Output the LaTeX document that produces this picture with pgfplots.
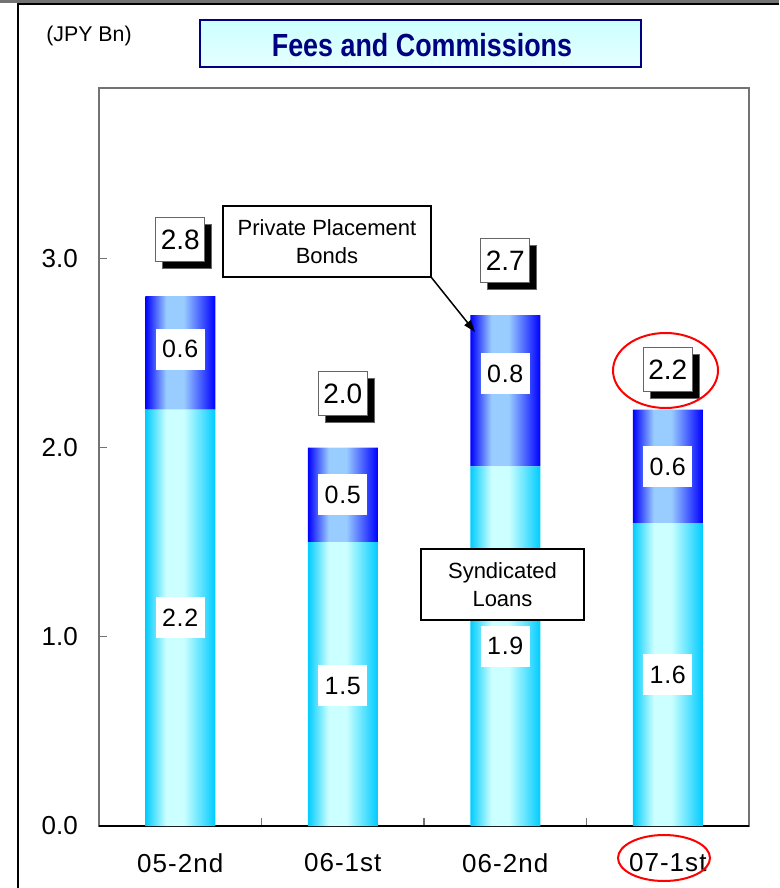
\documentclass[border=0pt]{standalone}
\usepackage{fontspec}
\setmainfont{Liberation Sans}
\newfontfamily\titlefont[FakeStretch=0.84]{Liberation Sans Bold}
\usepackage{pgfplots}
\pgfplotsset{compat=1.18}
\usepackage{pgfplotstable}
\usetikzlibrary{shadows,arrows.meta,calc}

\definecolor{loanedge}{RGB}{0,204,255}
\definecolor{loanmid}{RGB}{204,255,255}
\definecolor{bondedge}{RGB}{0,0,255}
\definecolor{bondmid}{RGB}{153,204,255}
\definecolor{navyblue}{RGB}{0,0,128}
\definecolor{titlefill}{RGB}{204,255,255}

% Horizontal highlight repeated once per bar (bars at 0..3, width 0.2154*2 units):
% the bars' common bounding box is mapped onto 25bp..75bp of the shading.
\pgfdeclarehorizontalshading{loanshade}{100bp}{%
  color(0bp)=(loanedge); color(25bp)=(loanedge); color(26.88bp)=(loanmid); color(28.45bp)=(loanmid); color(31.28bp)=(loanedge);
  color(39.57bp)=(loanedge); color(41.45bp)=(loanmid); color(43.02bp)=(loanmid); color(45.85bp)=(loanedge);
  color(54.15bp)=(loanedge); color(56.03bp)=(loanmid); color(57.60bp)=(loanmid); color(60.43bp)=(loanedge);
  color(68.72bp)=(loanedge); color(70.60bp)=(loanmid); color(72.17bp)=(loanmid); color(75bp)=(loanedge);
  color(100bp)=(loanedge)}
\pgfdeclarehorizontalshading{bondshade}{100bp}{%
  color(0bp)=(bondedge); color(25bp)=(bondedge); color(26.88bp)=(bondmid); color(28.45bp)=(bondmid); color(31.28bp)=(bondedge);
  color(39.57bp)=(bondedge); color(41.45bp)=(bondmid); color(43.02bp)=(bondmid); color(45.85bp)=(bondedge);
  color(54.15bp)=(bondedge); color(56.03bp)=(bondmid); color(57.60bp)=(bondmid); color(60.43bp)=(bondedge);
  color(68.72bp)=(bondedge); color(70.60bp)=(bondmid); color(72.17bp)=(bondmid); color(75bp)=(bondedge);
  color(100bp)=(bondedge)}

% Fees and commissions (JPY Bn) by half year, with label positions
\pgfplotstableread{
x loans bonds total lpos bpos tpos
0 2.2 0.6 2.8 1.10 2.52 3.097
1 1.5 0.5 2.0 0.74 1.75 2.283
2 1.9 0.8 2.7 0.95 2.39 2.986
3 1.6 0.6 2.2 0.80 1.90 2.410
}\feesdata

\pgfplotsset{
  chartframe/.style={
    anchor=south west, scale only axis,
    width=487.5pt, height=553.5pt,
    xmin=-0.5, xmax=3.5, ymin=0, ymax=3.9,
  },
  valfmt/.style={
    nodes near coords={\pgfmathprintnumber[fixed,fixed zerofill,precision=1,assume math mode=true]{\pgfplotspointmeta}},
    point meta=explicit,
  },
}

\begin{document}
\begin{tikzpicture}[x=0.75pt, y=0.75pt]

\begin{axis}[
  chartframe, name=main,
  ybar stacked, bar width=52.5pt,
  axis line style={draw=black!55, line width=1.2pt},
  tick pos=left,
  tick align=inside,
  major tick length=6pt,
  tick style={draw=black!55, line width=1pt},
  xtick={0.5,1.5,2.5}, xticklabels={},
  extra x ticks={0,1,2,3},
  extra x tick labels={05-2nd,06-1st,06-2nd,07-1st},
  extra x tick style={major tick length=0pt},
  xticklabel style={anchor=north, inner sep=0pt, yshift=-20.25pt,
    font=\fontsize{19.5}{20}\selectfont\addfontfeature{LetterSpace=4}},
  ytick={0,1,2,3},
  yticklabel style={anchor=east, inner sep=0pt, xshift=-15.75pt,
    font=\fontsize{19.5}{20}\selectfont,
    /pgf/number format/.cd, fixed, fixed zerofill, precision=1,
    assume math mode=true},
]
\addplot[draw=none, shade, shading=loanshade, shading angle=0]
  table[x=x, y=loans] {\feesdata};
\addplot[draw=none, shade, shading=bondshade, shading angle=0]
  table[x=x, y=bonds] {\feesdata};
\draw[black, line width=1.5pt] (rel axis cs:0,0) -- (rel axis cs:1,0);
\end{axis}

% value labels
\begin{axis}[chartframe, hide axis, clip=false]
\addplot[only marks, mark=none, valfmt,
  every node near coord/.append style={anchor=center, fill=white, inner sep=0pt,
    minimum width=36.75pt, minimum height=30.75pt,
    font=\fontsize{18.75}{20}\selectfont\addfontfeature{LetterSpace=3}}]
  table[x=x, y=lpos, meta=loans] {\feesdata};
\addplot[only marks, mark=none, valfmt,
  every node near coord/.append style={anchor=center, fill=white, inner sep=0pt,
    minimum width=36.75pt, minimum height=30.75pt,
    font=\fontsize{18.75}{20}\selectfont\addfontfeature{LetterSpace=3}}]
  table[x=x, y=bpos, meta=bonds] {\feesdata};
\addplot[only marks, mark=none, valfmt,
  every node near coord/.append style={anchor=center, fill=white, inner sep=0pt,
    draw=black!60, line width=0.75pt,
    minimum width=36.75pt, minimum height=33pt,
    font=\fontsize{21}{22}\selectfont,
    drop shadow={shadow xshift=5.25pt, shadow yshift=-5.25pt, opacity=1, fill=black}}]
  table[x=x, y=tpos, meta=total] {\feesdata};
\end{axis}

\pgfresetboundingbox
\begin{scope}[shift={($(main.south west)-(99,62)$)}]
\path[use as bounding box] (0,0) rectangle (779,888);

% page frame
\fill[black!55] (0,885.3) rectangle (779,888);
\draw[line width=1.8pt] (18,0) -- (18,884.1) -- (779,884.1);

% title and unit
\node[draw=navyblue, line width=1.5pt, top color=titlefill, bottom color=titlefill!50,
  minimum width=330.75pt, minimum height=35.25pt, inner sep=0pt] at (420.5,844.5) {};
\node[text=navyblue, font=\titlefont\fontsize{24}{26}\selectfont] at (422,843) {Fees and Commissions};
\node[font=\fontsize{16}{18}\selectfont] at (89,852) {(JPY Bn)};

% series callouts
\node[draw=black, line width=1.1pt, fill=white, minimum width=156pt, minimum height=53.25pt,
  inner sep=0pt, align=center, font=\fontsize{16.5}{21}\selectfont]
  at (327,646.5) {Private Placement\\Bonds};
\draw[line width=1.1pt, -{Triangle[length=9pt,width=6pt]}] (431,611) -- (475,556);
\node[draw=black, line width=1.1pt, fill=white, minimum width=122.25pt, minimum height=53.25pt,
  inner sep=0pt, align=center, font=\fontsize{16.5}{21}\selectfont]
  at (502.5,303.5) {Syndicated\\Loans};

% highlight of the latest half year
\draw[red, line width=1.5pt] (665.5,517.5) ellipse [x radius=52.5, y radius=37.5];
\draw[red, line width=1.5pt] (664,30) ellipse [x radius=46, y radius=23];
\end{scope}
\end{tikzpicture}
\end{document}
